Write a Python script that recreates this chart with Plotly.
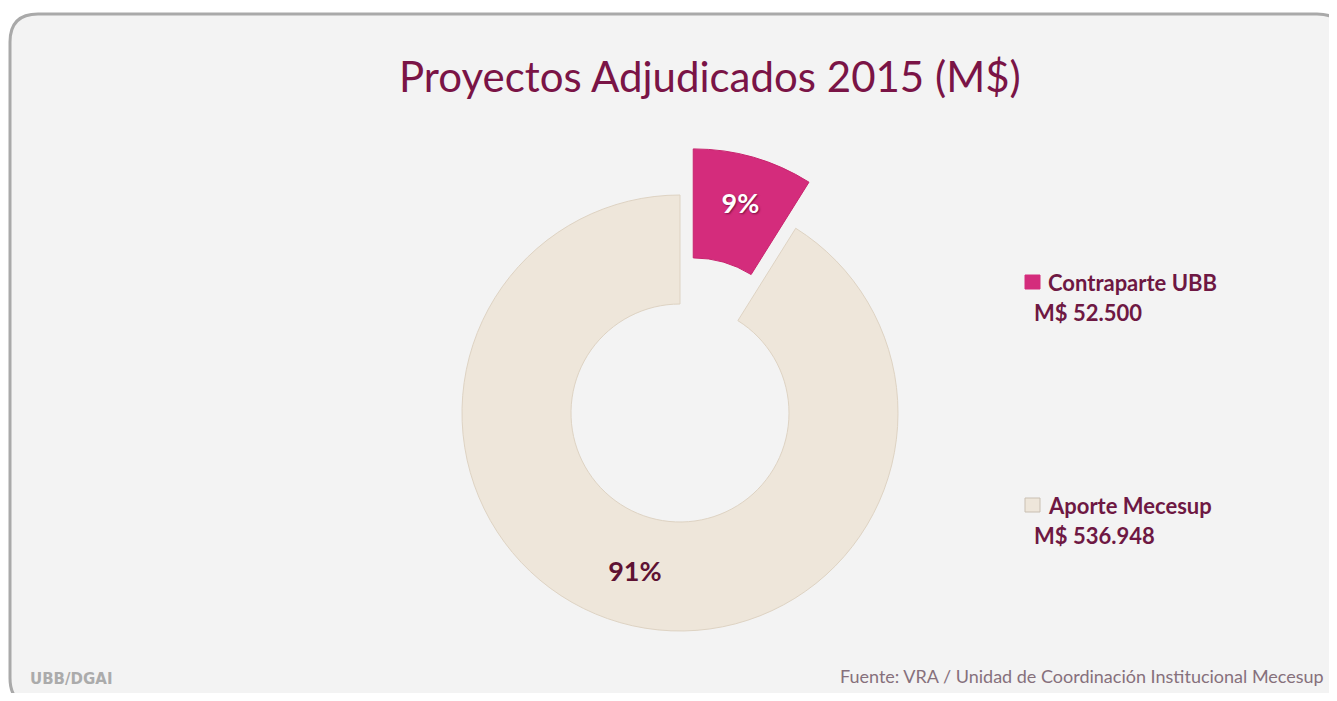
import plotly.graph_objects as go

# ---- data ----
labels = ["Contraparte UBB", "Aporte Mecesup"]
values = [52500, 536948]
colors = ["#D42C7C", "#EEE6DA"]
title_text = "Proyectos Adjudicados 2015 (M$)"
source_text = "Fuente: VRA / Unidad de Coordinación Institucional Mecesup"
logo_text = "UBB/DGAI"

# page has an 8px body margin; figure sized to fit the 1337x701 window
OFF = 8
W, H = 1337 - 2 * OFF, 701 - 2 * OFF
MAROON = "#6E1843"


def px(x):
    return (x - OFF) / W


def py(y):
    return 1 - (y - OFF) / H


def fmt(v):
    return "M$ " + f"{v:,.0f}".replace(",", ".")


# pie geometry (window pixels): centre, outer radius, pull
cx, cy, R, PULL = 680, 413, 218, 0.22
half = R * (1 + PULL)

fig = go.Figure()

fig.add_trace(go.Pie(
    labels=labels,
    values=values,
    sort=False,
    direction="clockwise",
    rotation=0,
    hole=0.5,
    pull=[PULL, 0],
    marker=dict(colors=colors, line=dict(color=["#C8246E", "#DED3C3"], width=1)),
    texttemplate="%{percent:.0%}",
    textposition="inside",
    insidetextorientation="horizontal",
    textfont=dict(family="Lato", size=27, weight="bold",
                  color=["#FFFFFF", "#5E1233"],
                  shadow=["1px 1px 2px #7A1040", "none"]),
    domain=dict(x=[px(cx - half), px(cx + half)], y=[py(cy + half), py(cy - half)]),
    showlegend=False,
    hoverinfo="label+value+percent",
))

shapes = []
# rounded frame (paper coordinates)
x0, y0, x1, y1 = px(10), py(14), px(1345), py(706)
rx, ry = 28 / W, 28 / H
path = (f"M {x0+rx},{y0} L {x1-rx},{y0} Q {x1},{y0} {x1},{y0-ry} "
        f"L {x1},{y1+ry} Q {x1},{y1} {x1-rx},{y1} "
        f"L {x0+rx},{y1} Q {x0},{y1} {x0},{y1+ry} "
        f"L {x0},{y0-ry} Q {x0},{y0} {x0+rx},{y0} Z")
shapes.append(dict(type="path", xref="paper", yref="paper", path=path,
                   fillcolor="#F3F3F3", line=dict(color="#A9A9A9", width=3),
                   layer="below"))

annotations = [
    dict(text=title_text, x=px(710), y=py(76), xref="paper", yref="paper",
         showarrow=False, xanchor="center", yanchor="middle",
         font=dict(family="Lato", size=42, color="#7A1446")),
    dict(text=source_text, x=px(1326), y=py(689), xref="paper", yref="paper",
         showarrow=False, xanchor="right", yanchor="bottom",
         font=dict(family="Lato", size=18, color="#86707C")),
    dict(text=logo_text, x=px(28), y=py(690), xref="paper", yref="paper",
         showarrow=False, xanchor="left", yanchor="bottom",
         font=dict(family="DejaVu Sans", size=15, weight="bold", color="#ABABAB")),
]

# custom legend
legend_y = [282, 505]
for lab, val, col, ly in zip(labels, values, colors, legend_y):
    shapes.append(dict(type="rect", xref="paper", yref="paper",
                       x0=px(1025), x1=px(1040),
                       y0=py(ly + 7), y1=py(ly - 7),
                       fillcolor=col,
                       line=dict(color="#C9BFB2" if col != colors[0] else col, width=1)))
    annotations.append(dict(text=f"<b>{lab}</b>", x=px(1046), y=py(ly),
                            xref="paper", yref="paper", showarrow=False,
                            xanchor="left", yanchor="middle",
                            font=dict(family="Lato", size=22, color=MAROON)))
    annotations.append(dict(text=f"<b>{fmt(val)}</b>", x=px(1032), y=py(ly + 30),
                            xref="paper", yref="paper", showarrow=False,
                            xanchor="left", yanchor="middle",
                            font=dict(family="Lato", size=22, color=MAROON)))

fig.update_layout(
    width=W, height=H,
    margin=dict(l=0, r=0, t=0, b=0),
    paper_bgcolor="#FFFFFF",
    plot_bgcolor="#FFFFFF",
    shapes=shapes,
    annotations=annotations,
)

fig.write_html("out.html")
